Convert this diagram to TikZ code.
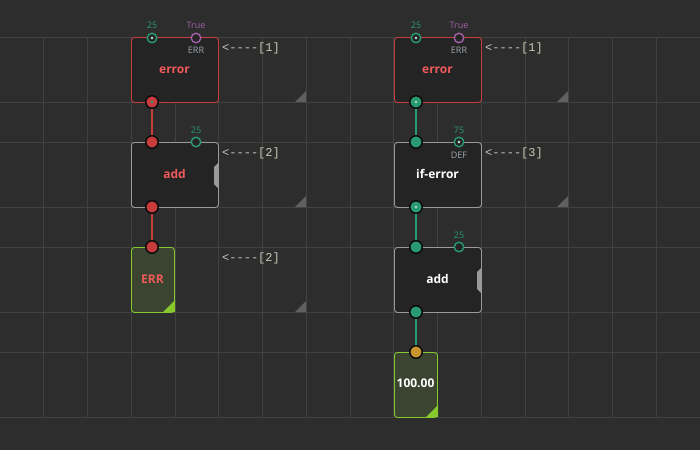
\documentclass[tikz,border=0pt]{standalone}
\usepackage{fontspec}
\setmainfont{Open Sans}
\newfontfamily\monof{Liberation Mono}
\definecolor{bg}{HTML}{2D2D2D}
\definecolor{gridc}{HTML}{414141}
\definecolor{nodebg}{HTML}{242424}
\definecolor{redc}{HTML}{C83C3C}
\definecolor{redt}{HTML}{F05A5A}
\definecolor{greenc}{HTML}{2A9A72}
\definecolor{purplec}{HTML}{A060A8}
\definecolor{grayb}{HTML}{9A9A9A}
\definecolor{limec}{HTML}{86C82E}
\definecolor{olive}{HTML}{3A4430}
\definecolor{orangec}{HTML}{C8962E}
\definecolor{commc}{HTML}{CCC6B8}
\definecolor{labelg}{HTML}{A0A8B0}
\definecolor{tri}{HTML}{606060}
\begin{document}
\begin{tikzpicture}[x=1pt,y=-1pt,
  box/.style={draw=#1, rounded corners=3pt, line width=0.9pt, fill=nodebg, minimum width=87pt, minimum height=65pt, anchor=north west, inner sep=0pt},
  valbox/.style={draw=limec, rounded corners=3pt, line width=0.9pt, fill=olive, minimum width=43pt, minimum height=65pt, anchor=north west, inner sep=0pt},
  pinf/.style={circle, fill=#1, draw=black!70!bg, line width=1.5pt, minimum size=12.5pt, inner sep=0pt},
  pino/.style={circle, draw=#1, fill=nodebg, line width=1.4pt, minimum size=9.5pt, inner sep=0pt},
  dotc/.style={circle, fill=#1, minimum size=2.6pt, inner sep=0pt},
  title/.style={font=\fontsize{12}{14}\selectfont\bfseries},
  vlab/.style={font=\fontsize{9}{10}\selectfont, inner sep=0pt},
  comm/.style={font=\monof\fontsize{12}{14}\selectfont, text=commc, anchor=west, inner sep=0pt},
  link/.style={line width=1.8pt},
  resz/.style={fill=tri}
]
\useasboundingbox (0,0) rectangle (700,450);
\fill[bg] (0,0) rectangle (700,450);
% grid
\foreach \k in {1,...,15} \draw[gridc, line width=0.9pt] (43.75*\k,37) -- (43.75*\k,417);
\foreach \yy in {37,102,142,207,247,312,352,417} \draw[gridc, line width=0.9pt] (0,\yy) -- (700,\yy);

% ---------- left column ----------
\node[box=redc] (e1) at (131,37) {};
\node[title, text=redt] at (174.5,70) {error};
\node[box=grayb] (a1) at (131,142) {};
\fill[grayb] (218,163) -- (214,167) -- (214,184) -- (218,188) -- cycle;
\node[title, text=redt] at (174.5,174) {add};
\node[valbox] (v1) at (131,247) {};
\fill[limec] (163,312) -- (175,312) -- (175,300) -- cycle;
\node[title, text=redt] at (152.5,279) {ERR};

% pins left
\node[pino=greenc] (e1i1) at (152,38) {};
\node[dotc=white!80!greenc] at (e1i1) {};
\node[pino=purplec] (e1i2) at (196,38) {};
\node[vlab, text=greenc] at (152,25) {25};
\node[vlab, text=purplec] at (196,25) {True};
\node[vlab, text=labelg] at (196,50) {ERR};
\node[pinf=redc] (e1o) at (152,102) {};
\node[dotc=greenc] at (e1o) {};

\node[pinf=redc] (a1i1) at (152,142) {};
\node[pino=greenc] (a1i2) at (196,142) {};
\node[vlab, text=greenc] at (196,130) {25};
\node[pinf=redc] (a1o) at (152,207) {};
\node[pinf=redc] (v1i) at (152,247) {};

\draw[link, redc] (e1o) -- (a1i1);
\draw[link, redc] (a1o) -- (v1i);

% comments left
\node[comm] (c1) at (222,48) {<----[1]};
\fill[resz] (295,102) -- (306,102) -- (306,91) -- cycle;
\node[comm] (c2) at (222,153) {<----[2]};
\fill[resz] (295,207) -- (306,207) -- (306,196) -- cycle;
\node[comm] (c3) at (222,258) {<----[2]};
\fill[resz] (295,312) -- (306,312) -- (306,301) -- cycle;

% ---------- right column ----------
\node[box=redc] (e2) at (394,37) {};
\node[title, text=redt] at (437.5,70) {error};
\node[box=grayb] (f2) at (394,142) {};
\node[title, text=white] at (437.5,174) {if-error};
\node[box=grayb] (a2) at (394,247) {};
\fill[grayb] (481,268) -- (477,272) -- (477,289) -- (481,293) -- cycle;
\node[title, text=white] at (437.5,279) {add};
\node[valbox] (v2) at (394,352) {};
\fill[limec] (426,417) -- (438,417) -- (438,405) -- cycle;
\node[title, text=white] at (415.5,383) {100.00};

% pins right
\node[pino=greenc] (e2i1) at (416,38) {};
\node[dotc=white!80!greenc] at (e2i1) {};
\node[pino=purplec] (e2i2) at (459,38) {};
\node[vlab, text=greenc] at (416,25) {25};
\node[vlab, text=purplec] at (459,25) {True};
\node[vlab, text=labelg] at (459,50) {ERR};
\node[pinf=greenc] (e2o) at (416,102) {};
\node[dotc=white!60!greenc] at (e2o) {};

\node[pinf=greenc] (f2i1) at (416,142) {};
\node[pino=greenc] (f2i2) at (459,142) {};
\node[dotc=white!80!greenc] at (f2i2) {};
\node[vlab, text=greenc] at (459,130) {75};
\node[vlab, text=labelg] at (459,155) {DEF};
\node[pinf=greenc] (f2o) at (416,207) {};
\node[dotc=white!60!greenc] at (f2o) {};

\node[pinf=greenc] (a2i1) at (416,247) {};
\node[pino=greenc] (a2i2) at (459,247) {};
\node[vlab, text=greenc] at (459,235) {25};
\node[pinf=greenc] (a2o) at (416,312) {};
\node[pinf=orangec] (v2i) at (416,352) {};

\draw[link, greenc] (e2o) -- (f2i1);
\draw[link, greenc] (f2o) -- (a2i1);
\draw[link, greenc] (a2o) -- (v2i);

% comments right
\node[comm] (c4) at (485,48) {<----[1]};
\fill[resz] (557,102) -- (568,102) -- (568,91) -- cycle;
\node[comm] (c5) at (485,153) {<----[3]};
\fill[resz] (557,207) -- (568,207) -- (568,196) -- cycle;
\end{tikzpicture}
\end{document}
